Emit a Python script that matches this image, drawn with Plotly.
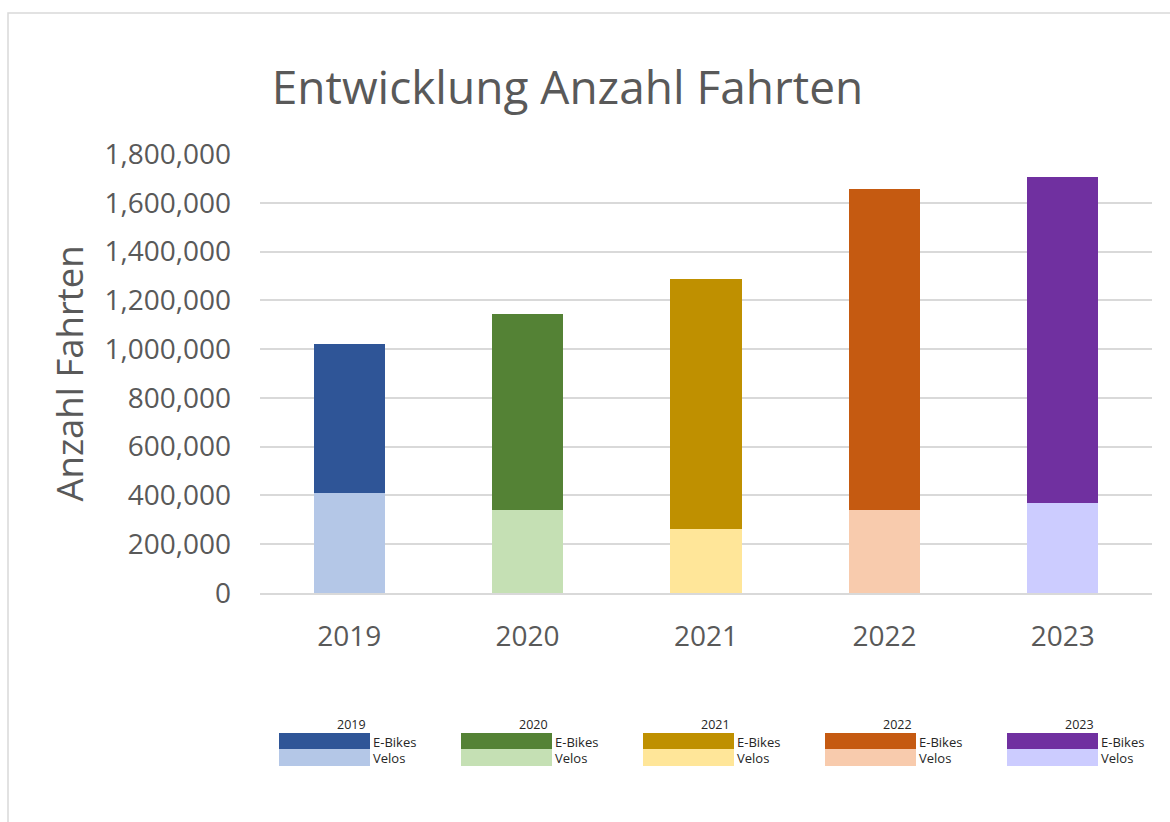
import plotly.graph_objects as go

years = ["2019", "2020", "2021", "2022", "2023"]
velos = [412000, 342000, 263000, 342000, 371000]
ebikes = [607000, 800000, 1023000, 1314000, 1334000]
dark_colors = ["#2F5597", "#548235", "#BF9000", "#C55A11", "#7030A0"]
light_colors = ["#B4C7E7", "#C5E0B4", "#FFE699", "#F8CBAD", "#CCCCFF"]
series_names = ["E-Bikes", "Velos"]
y_ticks = [0, 200000, 400000, 600000, 800000, 1000000, 1200000, 1400000, 1600000, 1800000]

W, H = 1170, 822
L, R, T, B = 260, 18, 154, 229
PW, PH = W - L - R, H - T - B


def px(x):
    return (x - L) / PW


def py(y):
    return (H - B - y) / PH


TXT = "#595959"
FONT = "Open Sans"

fig = go.Figure()
fig.add_trace(go.Bar(x=years, y=velos, name="Velos", marker=dict(color=light_colors, line=dict(width=0)),
                     showlegend=False))
fig.add_trace(go.Bar(x=years, y=ebikes, name="E-Bikes", marker=dict(color=dark_colors, line=dict(width=0)),
                     showlegend=False))

shapes = []
annotations = []

# outer frame
shapes.append(dict(type="rect", xref="paper", yref="paper",
                   x0=px(8), x1=px(1180), y0=py(835), y1=py(13),
                   line=dict(color="#D9D9D9", width=1.5), fillcolor="rgba(0,0,0,0)", layer="below"))

# y-axis title
annotations.append(dict(text="Anzahl Fahrten", xref="paper", yref="paper", x=px(68), y=py(373.5),
                        xanchor="center", yanchor="middle", textangle=-90, showarrow=False,
                        font=dict(family=FONT, size=36.5, color=TXT)))

# custom legend
for i, yr in enumerate(years):
    left = 279 + i * 182
    sw = 91
    shapes.append(dict(type="rect", xref="paper", yref="paper", x0=px(left), x1=px(left + sw),
                       y0=py(749), y1=py(733), fillcolor=dark_colors[i], line=dict(width=0)))
    shapes.append(dict(type="rect", xref="paper", yref="paper", x0=px(left), x1=px(left + sw),
                       y0=py(766), y1=py(749), fillcolor=light_colors[i], line=dict(width=0)))
    annotations.append(dict(text=yr, xref="paper", yref="paper", x=px(left + 72), y=py(724),
                            xanchor="center", yanchor="middle", showarrow=False,
                            font=dict(family=FONT, size=12.5, color="#262626")))
    annotations.append(dict(text=series_names[0], xref="paper", yref="paper", x=px(left + sw + 1), y=py(741.5),
                            xanchor="left", yanchor="middle", showarrow=False,
                            font=dict(family=FONT, size=13, color="#262626")))
    annotations.append(dict(text=series_names[1], xref="paper", yref="paper", x=px(left + sw + 1), y=py(757.5),
                            xanchor="left", yanchor="middle", showarrow=False,
                            font=dict(family=FONT, size=13, color="#262626")))

fig.update_layout(
    width=W, height=H,
    margin=dict(l=L, r=R, t=T, b=B),
    paper_bgcolor="white", plot_bgcolor="white",
    barmode="stack", bargap=0.6,
    title=dict(text="Entwicklung Anzahl Fahrten", x=567.5 / W, xanchor="center",
               y=1 - 88 / H, yanchor="middle",
               font=dict(family=FONT, size=46, color=TXT)),
    font=dict(family=FONT, color=TXT),
    shapes=shapes,
    annotations=annotations,
)
fig.update_yaxes(range=[0, 1800000], tickvals=y_ticks, tickformat=",d",
                 tickfont=dict(family=FONT, size=28, color=TXT),
                 showgrid=True, gridcolor="#D9D9D9", gridwidth=1.5,
                 zeroline=False, showline=False, ticks="", ticklabelstandoff=28)
fig.update_xaxes(tickfont=dict(family=FONT, size=28, color=TXT), showgrid=False,
                 showline=True, linecolor="#D9D9D9", linewidth=1.5, ticks="",
                 ticklabelstandoff=18)

fig.write_html("out.html")
